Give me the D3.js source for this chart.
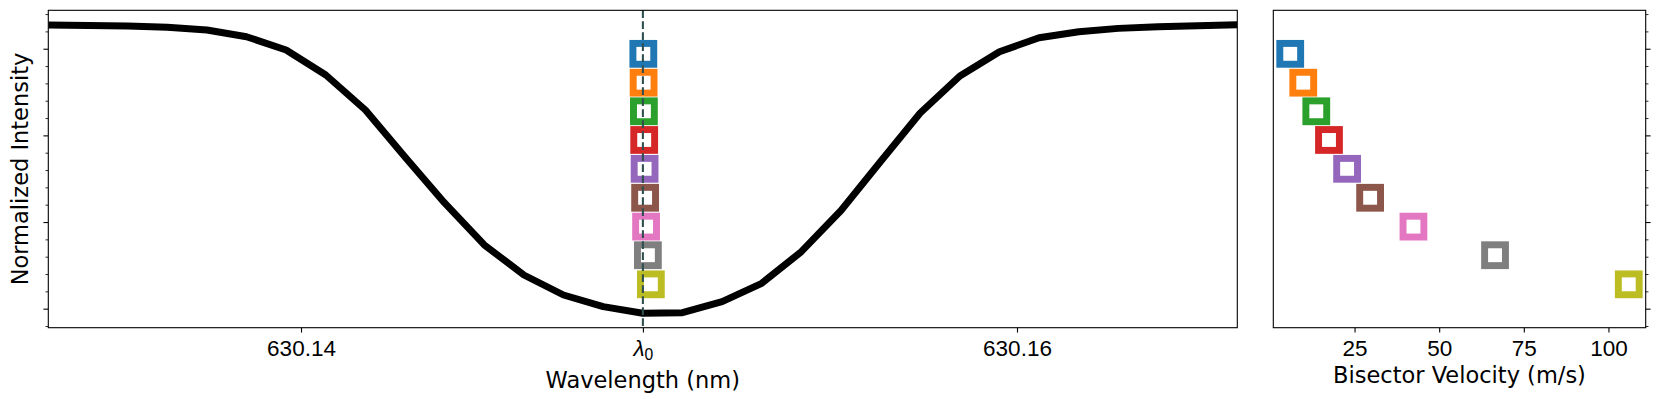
<!DOCTYPE html>
<html>
<head>
<meta charset="utf-8">
<script src="https://cdn.jsdelivr.net/npm/d3@7/dist/d3.min.js"></script>
<style>
  body { margin: 0; background: #fff; }
  svg { display: block; font-family: "DejaVu Sans", sans-serif; }
  .tick text { font-size: 22.5px; fill: #000; }
  .axis-label { font-size: 22.5px; fill: #000; }
</style>
</head>
<body>
<div class="container"></div>
<script>
const WIDTH = 1661;
const HEIGHT = 399;
const LAMBDA0 = 630.14955; // line centre (nm)
const C_LIGHT = 299792458; // m/s

// Spectral line profile
const wavelengths = [
  630.132941, 630.134047, 630.135156, 630.136263, 630.137372, 630.138478,
  630.139584, 630.140693, 630.141799, 630.142905, 630.144011, 630.14512,
  630.146226, 630.147332, 630.148441, 630.149547, 630.150654, 630.151763,
  630.152869, 630.153975, 630.155084, 630.15619, 630.157296, 630.158405,
  630.159511, 630.160617, 630.161726, 630.162832, 630.163939, 630.165047,
  630.166154
];
const intensities = [
  0.9273, 0.9268, 0.9262, 0.9247, 0.9216, 0.9138,
  0.8985, 0.8697, 0.8293, 0.775, 0.722, 0.6735,
  0.6389, 0.6158, 0.6023, 0.5947, 0.5954, 0.6081,
  0.6293, 0.6658, 0.7133, 0.7699, 0.8258, 0.8685,
  0.8965, 0.9127, 0.9196, 0.9235, 0.9254, 0.9265,
  0.9277
];

// Bisector points: intensity level and velocity (m/s)
const bisectorLevels = [0.8941, 0.8608, 0.8278, 0.7947, 0.7614, 0.728, 0.6947, 0.6617, 0.6281];
const bisectorVelocities = [6.0, 9.85, 13.7, 17.45, 22.8, 29.6, 42.4, 66.5, 106.0];
const markerColors = ["#1f77b4", "#ff7f0e", "#2ca02c", "#d62728", "#9467bd",
                      "#8c564b", "#e377c2", "#7f7f7f", "#bcbd22"];

// Tick labels
const wavelengthTicks = [630.14, LAMBDA0, 630.16];
const wavelengthTickLabels = ["630.14", "λ0", "630.16"];
const velocityTicks = [25, 50, 75, 100];

// Layout
const TOP = 10.3, BOTTOM = 327.7;
const LEFT_PANEL = { x0: 48.3, x1: 1237.3 };
const RIGHT_PANEL = { x0: 1273.3, x1: 1645.7 };
const MAJOR_TICK = 4.86, MINOR_TICK = 2.78;

const svg = d3.select(".container").append("svg")
  .attr("width", WIDTH)
  .attr("height", HEIGHT);

// Scales (matplotlib-like 5% padding on y and velocity)
const pad = (ext) => { const p = 0.05 * (ext[1] - ext[0]); return [ext[0] - p, ext[1] + p]; };
const x = d3.scaleLinear().domain(d3.extent(wavelengths)).range([LEFT_PANEL.x0, LEFT_PANEL.x1]);
const y = d3.scaleLinear().domain(pad(d3.extent(intensities))).range([BOTTOM, TOP]);
const v = d3.scaleLinear().domain(pad(d3.extent(bisectorVelocities))).range([RIGHT_PANEL.x0, RIGHT_PANEL.x1]);

const yMajor = y.ticks(4);
const yMinor = y.ticks(20).filter(t => !yMajor.some(m => Math.abs(m - t) < 1e-9));

// Clip paths
const defs = svg.append("defs");
defs.append("clipPath").attr("id", "clip-left").append("rect")
  .attr("x", LEFT_PANEL.x0).attr("y", TOP)
  .attr("width", LEFT_PANEL.x1 - LEFT_PANEL.x0).attr("height", BOTTOM - TOP);

// ---- Left panel: line profile ----
const left = svg.append("g");

left.append("path")
  .datum(wavelengths.map((w, i) => [w, intensities[i]]))
  .attr("clip-path", "url(#clip-left)")
  .attr("fill", "none")
  .attr("stroke", "#000")
  .attr("stroke-width", 6.94)
  .attr("stroke-linejoin", "round")
  .attr("d", d3.line().x(d => x(d[0])).y(d => y(d[1])));

// bisector markers, velocity converted to a wavelength shift
left.selectAll("rect.marker")
  .data(bisectorLevels)
  .join("rect")
  .attr("class", "marker")
  .attr("x", (d, i) => x(LAMBDA0 * (1 + bisectorVelocities[i] / C_LIGHT)) - 10.42)
  .attr("y", d => y(d) - 10.42)
  .attr("width", 20.83)
  .attr("height", 20.83)
  .attr("fill", "none")
  .attr("stroke", (d, i) => markerColors[i])
  .attr("stroke-width", 6.94);

// line centre
left.append("line")
  .attr("x1", x(LAMBDA0)).attr("x2", x(LAMBDA0))
  .attr("y1", TOP).attr("y2", BOTTOM)
  .attr("stroke", "#2f4f4f")
  .attr("stroke-width", 2.08)
  .attr("stroke-dasharray", "7.7,3.3");

// axes
const xAxisLeft = left.append("g")
  .attr("transform", `translate(0,${BOTTOM})`)
  .call(d3.axisBottom(x).tickValues(wavelengthTicks)
    .tickFormat((d, i) => wavelengthTickLabels[i])
    .tickSize(MAJOR_TICK).tickPadding(7));

// replace the lambda label with italic lambda + subscript 0
xAxisLeft.selectAll(".tick text").filter((d, i) => i === 1)
  .text(null)
  .call(t => {
    t.append("tspan").attr("font-style", "italic").text("λ");
    t.append("tspan").attr("font-size", "15.7px").attr("dy", 4).text("0");
  });

left.append("g")
  .attr("transform", `translate(${LEFT_PANEL.x0},0)`)
  .call(d3.axisLeft(y).tickValues(yMajor).tickFormat("").tickSize(MAJOR_TICK));
left.append("g")
  .attr("class", "minor")
  .attr("transform", `translate(${LEFT_PANEL.x0},0)`)
  .call(d3.axisLeft(y).tickValues(yMinor).tickFormat("").tickSize(MINOR_TICK));

left.append("rect")
  .attr("x", LEFT_PANEL.x0).attr("y", TOP)
  .attr("width", LEFT_PANEL.x1 - LEFT_PANEL.x0).attr("height", BOTTOM - TOP)
  .attr("fill", "none").attr("stroke", "#000").attr("stroke-width", 1.1);

left.append("text")
  .attr("class", "axis-label")
  .attr("text-anchor", "middle")
  .attr("x", (LEFT_PANEL.x0 + LEFT_PANEL.x1) / 2)
  .attr("y", 387.9)
  .text("Wavelength (nm)");

left.append("text")
  .attr("class", "axis-label")
  .attr("text-anchor", "middle")
  .attr("transform", `translate(27.5,${(TOP + BOTTOM) / 2}) rotate(-90)`)
  .text("Normalized Intensity");

// ---- Right panel: bisector velocity ----
const right = svg.append("g");

right.selectAll("rect.marker")
  .data(bisectorVelocities)
  .join("rect")
  .attr("class", "marker")
  .attr("x", d => v(d) - 10.42)
  .attr("y", (d, i) => y(bisectorLevels[i]) - 10.42)
  .attr("width", 20.83)
  .attr("height", 20.83)
  .attr("fill", "none")
  .attr("stroke", (d, i) => markerColors[i])
  .attr("stroke-width", 6.94);

right.append("g")
  .attr("transform", `translate(0,${BOTTOM})`)
  .call(d3.axisBottom(v).tickValues(velocityTicks).tickFormat(d3.format("d"))
    .tickSize(MAJOR_TICK).tickPadding(7));

right.append("g")
  .attr("transform", `translate(${RIGHT_PANEL.x1},0)`)
  .call(d3.axisRight(y).tickValues(yMajor).tickFormat("").tickSize(MAJOR_TICK));
right.append("g")
  .attr("class", "minor")
  .attr("transform", `translate(${RIGHT_PANEL.x1},0)`)
  .call(d3.axisRight(y).tickValues(yMinor).tickFormat("").tickSize(MINOR_TICK));

right.append("rect")
  .attr("x", RIGHT_PANEL.x0).attr("y", TOP)
  .attr("width", RIGHT_PANEL.x1 - RIGHT_PANEL.x0).attr("height", BOTTOM - TOP)
  .attr("fill", "none").attr("stroke", "#000").attr("stroke-width", 1.1);

right.append("text")
  .attr("class", "axis-label")
  .attr("text-anchor", "middle")
  .attr("x", (RIGHT_PANEL.x0 + RIGHT_PANEL.x1) / 2)
  .attr("y", 383.3)
  .text("Bisector Velocity (m/s)");

// axis styling: no domain paths, thin black ticks
svg.selectAll(".domain").remove();
svg.selectAll(".tick line").attr("stroke", "#000").attr("stroke-width", 1.1);
svg.selectAll(".minor .tick line").attr("stroke-width", 0.83);
</script>
</body>
</html>
